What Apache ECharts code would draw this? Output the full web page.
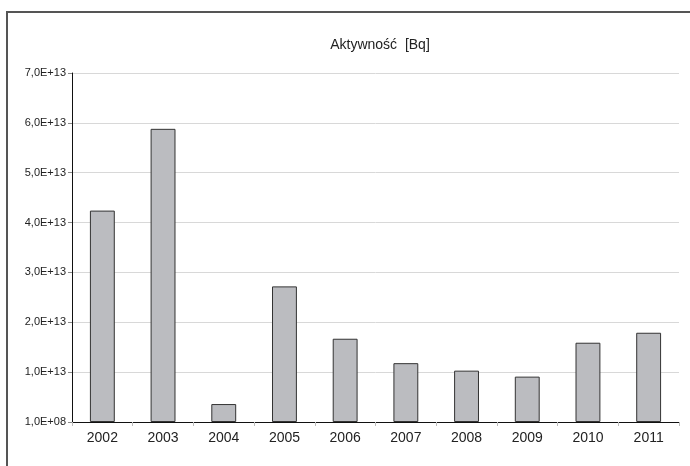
<!DOCTYPE html>
<html>
<head>
<meta charset="utf-8">
<script src="https://cdn.jsdelivr.net/npm/echarts@6/dist/echarts.min.js"></script>
<style>
  html, body { margin: 0; padding: 0; background: #fff; }
  #chart { width: 690px; height: 466px; }
</style>
</head>
<body>
<div id="chart"></div>
<script>
var years = ['2002', '2003', '2004', '2005', '2006', '2007', '2008', '2009', '2010', '2011'];
var activity = [4.24e13, 5.88e13, 0.36e13, 2.72e13, 1.67e13, 1.18e13, 1.03e13, 0.91e13, 1.59e13, 1.79e13];
var yLabels = ['1,0E+08', '1,0E+13', '2,0E+13', '3,0E+13', '4,0E+13', '5,0E+13', '6,0E+13', '7,0E+13'];

var font = "'Liberation Sans Narrow', 'Arial Narrow', 'Liberation Sans', Arial, sans-serif";

var chart = echarts.init(document.getElementById('chart'));

chart.setOption({
    animation: false,
    title: {
        text: 'Aktywność  [Bq]',
        left: 375,
        top: 33,
        textAlign: 'center',
        textStyle: { fontFamily: font, fontSize: 14, fontWeight: 'normal', color: '#222' }
    },
    graphic: [{
        type: 'rect',
        shape: { x: 7, y: 12, width: 700, height: 480 },
        style: { fill: 'none', stroke: '#555', lineWidth: 2 },
        silent: true
    }],
    grid: { left: 72, right: 11, top: 73, bottom: 44 },
    xAxis: {
        type: 'category',
        data: years,
        axisLine: { lineStyle: { color: '#111', width: 1 } },
        axisTick: { show: true, length: 4, lineStyle: { color: '#bbb' } },
        axisLabel: { fontFamily: font, fontSize: 14, color: '#222', margin: 9 }
    },
    yAxis: {
        type: 'value',
        min: 0,
        max: 7e13,
        interval: 1e13,
        axisLine: { show: true, lineStyle: { color: '#111', width: 1 } },
        axisTick: { show: true, length: 4, lineStyle: { color: '#888' } },
        splitLine: { lineStyle: { color: '#d8d8d8' } },
        axisLabel: {
            fontFamily: font, fontSize: 11, color: '#222', margin: 6,
            formatter: function (v) { return yLabels[Math.round(v / 1e13)]; }
        }
    },
    series: [{
        type: 'bar',
        data: activity,
        barWidth: '41%',
        itemStyle: { color: '#bbbcc0', borderColor: '#333', borderWidth: 1 }
    }]
});
</script>
</body>
</html>
